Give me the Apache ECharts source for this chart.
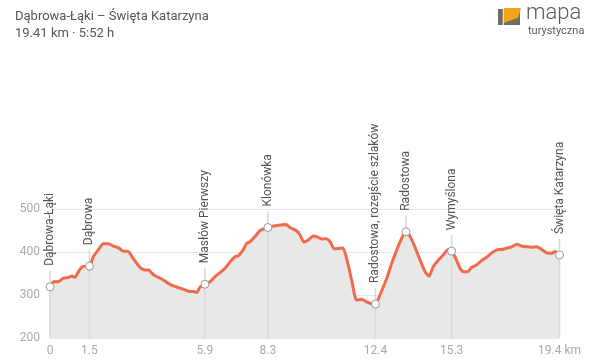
<!DOCTYPE html>
<html>
<head>
<meta charset="utf-8">
<script src="https://cdn.jsdelivr.net/npm/echarts@6/dist/echarts.min.js"></script>
<style>
html,body{margin:0;padding:0;background:#fff;}
#chart{width:600px;height:362px;}
</style>
</head>
<body>
<div id="chart"></div>
<script>
// Profile distance (km) and elevation (m)
const distKm = [0,0.13,0.32,0.51,0.70,0.83,0.95,1.08,1.24,1.40,1.5,1.65,1.84,2.03,2.22,2.41,2.60,2.79,2.98,3.17,3.30,3.43,3.62,3.75,3.94,4.13,4.32,4.51,4.70,4.95,5.14,5.33,5.46,5.59,5.71,5.9,6.10,6.29,6.48,6.67,6.86,7.05,7.17,7.36,7.49,7.62,7.81,8.00,8.19,8.3,8.57,8.83,8.99,9.14,9.40,9.52,9.68,9.84,10.03,10.22,10.35,10.51,10.67,10.83,10.98,11.15,11.30,11.49,11.68,11.87,12.06,12.19,12.4,12.57,12.83,13.02,13.21,13.40,13.56,13.71,13.90,14.10,14.29,14.44,14.60,14.79,14.98,15.17,15.3,15.43,15.62,15.75,15.90,16.06,16.25,16.44,16.64,16.83,17.02,17.21,17.40,17.59,17.78,17.97,18.16,18.35,18.54,18.73,18.92,19.11,19.24,19.41];
const elevM = [319,331,331,339,341,344,341,354,366,367,367,389,405,419,419,414,410,402,401,385,374,364,358,358,347,341,335,327,321,316,312,308,308,306,318,325,331,343,352,362,377,389,391,405,420,424,436,450,455,457,461,463,464,457,449,440,423,428,437,434,430,431,424,407,408,410,385,335,288,290,284,281,279,300,339,374,405,432,447,437,412,381,354,344,366,381,393,406,402,389,362,354,354,364,370,380,388,398,405,406,409,412,418,414,412,411,412,406,398,397,401,393];

// Waypoints
const wpNames = ['Dąbrowa-Łąki','Dąbrowa','Masłów Pierwszy','Klonówka','Radostowa, rozejście szlaków','Radostowa','Wymyślona','Święta Katarzyna'];
const wpKm    = [0,1.5,5.9,8.3,12.4,13.56,15.3,19.41];
const wpElev  = [319,367,325,457,279,447,402,393];
const wpFullLine = [true,true,true,true,true,false,true,true];

// Axis ticks
const xTickValues = [0,1.5,5.9,8.3,12.4,15.3,19.41];
const xTickLabels = ['0','1.5','5.9','8.3','12.4','15.3','19.4 km'];
const yMin = 200, yMax = 500, yStep = 100;

const profile = distKm.map((d,i)=>[d, elevM[i]]);
const wpData = wpKm.map((d,i)=>[d, wpElev[i], i]);

const chart = echarts.init(document.getElementById('chart'), null, {renderer:'canvas'});
const font = 'Roboto, "Noto Sans", sans-serif';

chart.setOption({
  animation:false,
  textStyle:{fontFamily:font},
  grid:{left:50, right:40.5, top:209, bottom:24},
  xAxis:{
    type:'value', min:0, max:19.41,
    axisLine:{show:false}, axisTick:{show:false}, splitLine:{show:false},
    axisLabel:{
      customValues:xTickValues,
      color:'#aaaaaa', fontSize:12, margin:7, fontFamily:font,
      formatter:(v)=>{const i=xTickValues.indexOf(v); return i>=0?xTickLabels[i]:'';}
    }
  },
  yAxis:{
    type:'value', min:yMin, max:yMax, interval:yStep,
    axisLine:{show:false}, axisTick:{show:false},
    splitLine:{lineStyle:{color:'#e8e8e8', width:1}},
    axisLabel:{color:'#aaaaaa', fontSize:12, margin:10, fontFamily:font}
  },
  series:[
    {
      type:'line', data:profile, symbol:'none', smooth:0.2, z:2,
      lineStyle:{color:'#f26a4c', width:3},
      areaStyle:{color:'#e8e8e8', opacity:1, origin:'start'}
    },
    {
      type:'custom', z:3, clip:false, data:wpData,
      renderItem:(params, api)=>{
        const idx = api.value(2);
        const p = api.coord([api.value(0), api.value(1)]);
        const b = api.coord([api.value(0), yMin]);
        return {
          type:'line',
          shape:{x1:p[0], y1:wpFullLine[idx]?b[1]:p[1], x2:p[0], y2:p[1]-16},
          style:{stroke:'#d8d8d8', lineWidth:1.5}
        };
      }
    },
    {
      type:'custom', z:4, clip:false, data:wpData,
      renderItem:(params, api)=>{
        const idx = api.value(2);
        const p = api.coord([api.value(0), api.value(1)]);
        return {
          type:'group',
          children:[
            {type:'circle', shape:{cx:p[0], cy:p[1], r:4}, style:{fill:'#ffffff', stroke:'#999999', lineWidth:1}},
            {type:'text', x:p[0], y:p[1]-21, rotation:Math.PI/2,
             style:{text:wpNames[idx], x:0, y:0, align:'left', verticalAlign:'middle',
                    fill:'#555555', font:'12px '+font}}
          ]
        };
      }
    }
  ],
  graphic:[
    {type:'text', left:15, top:10, style:{text:'Dąbrowa-Łąki – Święta Katarzyna', fill:'#555555', font:'13px '+font}},
    {type:'text', left:15, top:27, style:{text:'19.41 km · 5:52 h', fill:'#555555', font:'13px '+font}},
    {type:'rect', shape:{x:498, y:9, width:22, height:16}, style:{fill:'#6e6d60'}},
    {type:'polygon', shape:{points:[[504,8],[521,8],[518,18],[504,23]]}, style:{fill:'#f5a21b'}},
    {type:'polygon', shape:{points:[[504,23],[518,18],[517,25],[504,25]]}, style:{fill:'#6e6d60'}},
    {type:'line', shape:{x1:503.3, y1:9, x2:503.3, y2:25}, style:{stroke:'#ffffff', lineWidth:1}},
    {type:'text', left:526, top:2, style:{text:'mapa', fill:'#5e5d54', font:'300 22px '+font}},
    {type:'text', left:528, top:26, style:{text:'turystyczna', fill:'#5e5d54', font:'11px '+font}}
  ]
});
</script>
</body>
</html>
